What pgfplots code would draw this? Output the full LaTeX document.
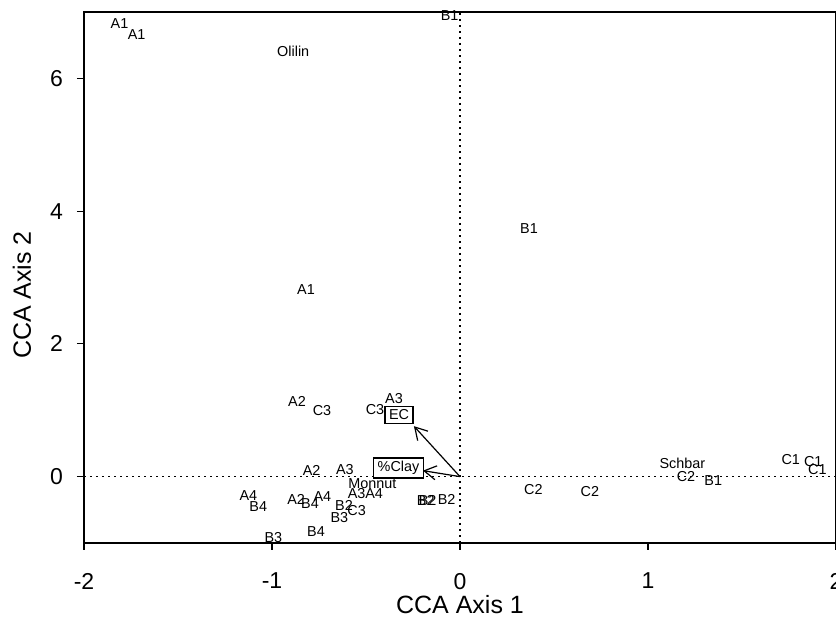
\documentclass[border=0pt]{standalone}
\usepackage{fontspec}
\setmainfont{Liberation Sans}
\usepackage{pgfplots}
\usepackage{pgfplotstable}
\pgfplotsset{compat=1.18}
\usetikzlibrary{arrows.meta}
\pgfplotstableread{
x y label
-1.811 6.83 A1
-1.720 6.66 A1
-0.887 6.40 Olilin
-0.055 6.95 B1
0.367 3.73 B1
-0.819 2.82 A1
-0.867 1.13 A2
-0.734 1.00 C3
-0.351 1.18 A3
-0.452 1.01 C3
-0.789 0.10 A2
-0.612 0.10 A3
-0.466 -0.10 Monnut
-1.126 -0.29 A4
-1.073 -0.45 B4
-0.872 -0.35 A2
-0.798 -0.40 B4
-0.732 -0.30 A4
-0.550 -0.25 A3
-0.457 -0.26 A4
-0.617 -0.44 B2
-0.550 -0.51 C3
-0.642 -0.62 B3
-0.766 -0.83 B4
-0.993 -0.92 B3
-0.182 -0.36 B2
-0.172 -0.36 B2
-0.071 -0.35 B2
0.390 -0.19 C2
0.691 -0.22 C2
1.183 0.20 Schbar
1.202 0.00 C2
1.347 -0.06 B1
1.759 0.25 C1
1.879 0.23 C1
1.901 0.10 C1
}\sitedata
\pgfplotstableread{
x y label
-0.324 0.93 EC
-0.327 0.13 {\%Clay}
}\envdata
\begin{document}
\begin{tikzpicture}
\begin{axis}[
  scale only axis, width=376pt, height=265.5pt,
  xmin=-2, xmax=2, ymin=-1, ymax=7,
  xtick={-2,-1,0,1,2}, ytick={0,2,4,6},
  tick align=outside, tick pos=left, major tick length=3.5pt,
  axis line style={line width=0.8pt},
  tick style={line width=0.6pt, black},
  /pgf/number format/assume math mode=true,
  ticklabel style={font=\fontsize{11.5}{13}\selectfont},
  xticklabel style={yshift=-8pt},
  yticklabel style={xshift=-3.5pt},
  xlabel={CCA Axis 1}, ylabel={CCA Axis 2},
  label style={font=\fontsize{12.5}{14}\selectfont},
  xlabel style={at={(axis description cs:0.5,0)}, anchor=center, yshift=-31pt},
  ylabel style={at={(axis description cs:0,0.467)}, anchor=center, yshift=31pt},
]
\coordinate (sw) at (rel axis cs:0,0);
\coordinate (ne) at (rel axis cs:1,1);
\addplot[line width=0.8pt, dash pattern=on 0.8pt off 2.2pt] coordinates {(0,-1) (0,7)};
\addplot[line width=0.8pt, dash pattern=on 0.8pt off 2.2pt] coordinates {(-2,0) (2,0)};
\addplot[line width=0.6pt, -{Straight Barb[length=6pt,width=7pt]}] coordinates {(0,0) (-0.245,0.76)};
\addplot[line width=0.6pt, -{Straight Barb[length=6pt,width=7pt]}] coordinates {(0,0) (-0.197,0.09)};
\addplot[draw=none, nodes near coords, point meta=explicit symbolic,
  nodes near coords style={anchor=center, font=\fontsize{7.2}{8}\selectfont, inner sep=0pt}]
  table[meta=label] {\sitedata};
\addplot[draw=none, nodes near coords, point meta=explicit symbolic,
  nodes near coords style={anchor=center, draw, line width=0.6pt, fill=white, font=\fontsize{7.2}{8}\selectfont, inner xsep=2pt, inner ysep=1.6pt}]
  table[meta=label] {\envdata};
\end{axis}
\pgfresetboundingbox
\path[use as bounding box] ([shift={(-42pt,-42.5pt)}]sw) rectangle ([shift={(0pt,6pt)}]ne);
\end{tikzpicture}
\end{document}
